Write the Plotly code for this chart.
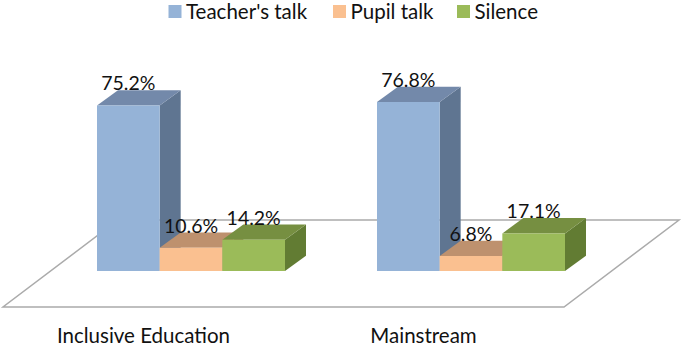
import plotly.graph_objects as go

categories = ["Inclusive Education", "Mainstream"]
teacher = [75.2, 76.8]
pupil = [10.6, 6.8]
silence = [14.2, 17.1]
series_names = ["Teacher's talk", "Pupil talk", "Silence"]
front = ["#95B3D7", "#FAC090", "#9BBB59"]
top_col = ["#7389AA", "#BE916E", "#768F41"]
side_col = ["#5F7591", "#A87F5C", "#627C33"]
legend_px = [175, 339.5, 463.5]

W, H, MB = 685, 349, 28
PX_PER_CAT = 280.0
CX0 = 191.0
BASE = 271.0
PX_PER_Y = 2.2
GROUP_PX = 188.0
FONT = "Lato"

xmin = -CX0 / PX_PER_CAT
xmax = (W - CX0) / PX_PER_CAT
ymax = BASE / PX_PER_Y
ymin = (BASE - (H - MB)) / PX_PER_Y

def X(px): return (px - CX0) / PX_PER_CAT
def Y(py): return (BASE - py) / PX_PER_Y

DX = 21 / PX_PER_CAT
DY = 15.3 / PX_PER_Y
GW = GROUP_PX / PX_PER_CAT
BW = GW / 3
LABEL_UP = 20 / PX_PER_Y
CAT_SHIFT = -47.5 / PX_PER_CAT

xs = list(range(len(categories)))
all_series = [teacher, pupil, silence]

fig = go.Figure()
shapes = []
floor = [(3, 307), (564, 307), (679, 220), (118, 220)]
shapes.append(dict(type="path", xref="x", yref="y", layer="below",
                   path="M" + " L".join(f"{X(a)},{Y(b)}" for a, b in floor) + " Z",
                   fillcolor="#FFFFFF", line=dict(color="#ABABAB", width=1.5)))

def poly(pts, color):
    return dict(type="path", xref="x", yref="y", layer="below",
                path="M" + " L".join(f"{a},{b}" for a, b in pts) + " Z",
                fillcolor=color, line=dict(width=0))

for s, vals in enumerate(all_series):
    for c, v in zip(xs, vals):
        x0 = c - GW / 2 + s * BW
        x1 = x0 + BW
        shapes.append(poly([(x1, 0), (x1 + DX, DY), (x1 + DX, v + DY), (x1, v)], side_col[s]))
        shapes.append(poly([(x0, v), (x1, v), (x1 + DX, v + DY), (x0 + DX, v + DY)], top_col[s]))

for s, vals in enumerate(all_series):
    fig.add_trace(go.Bar(x=xs, y=vals, name=series_names[s],
                         marker=dict(color=front[s], line=dict(width=0)),
                         hoverinfo="skip", showlegend=False))

for s, vals in enumerate(all_series):
    fig.add_trace(go.Scatter(
        x=[c - GW / 2 + (s + 0.5) * BW for c in xs],
        y=[v + LABEL_UP for v in vals],
        text=[f"{v:.1f}%" for v in vals],
        mode="text", textposition="middle center",
        textfont=dict(family=FONT, size=19.5, color="#111111"),
        showlegend=False, hoverinfo="skip"))

# legend row: swatch and label
for s, name in enumerate(series_names):
    fig.add_trace(go.Scatter(
        x=[X(legend_px[s])], y=[Y(11.5)], mode="markers",
        marker=dict(symbol="square", size=13, color=front[s]),
        showlegend=False, hoverinfo="skip", cliponaxis=False))
    fig.add_trace(go.Scatter(
        x=[X(legend_px[s] + 11)], y=[Y(13.5)], text=[name],
        mode="text", textposition="middle right",
        textfont=dict(family=FONT, size=20.5, color="#111111"),
        showlegend=False, hoverinfo="skip", cliponaxis=False))

fig.update_layout(
    width=W, height=H, autosize=False,
    margin=dict(l=0, r=0, t=0, b=MB),
    paper_bgcolor="white", plot_bgcolor="white",
    barmode="group", bargap=1 - GW, bargroupgap=0,
    shapes=shapes,
    showlegend=False,
    xaxis=dict(range=[xmin, xmax], tickmode="array",
               tickvals=[c + CAT_SHIFT for c in xs], ticktext=categories,
               showgrid=False, zeroline=False, showline=False, ticks="",
               tickfont=dict(family=FONT, size=20.5, color="#111111"), fixedrange=True),
    yaxis=dict(range=[ymin, ymax], visible=False, showgrid=False, zeroline=False, fixedrange=True),
)
fig.write_html("out.html", config={"displayModeBar": False},
               post_script="document.body.style.margin='0';document.body.style.overflow='hidden';")
